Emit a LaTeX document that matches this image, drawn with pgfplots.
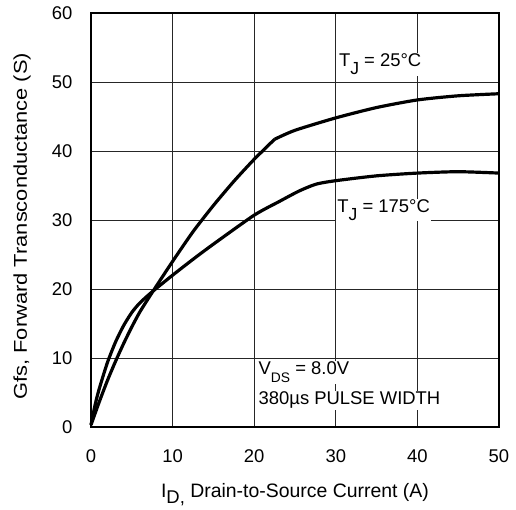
\documentclass[border=0pt]{standalone}
\usepackage{pgfplots}
\pgfplotsset{compat=1.18}
\usepackage{fontspec}
\setmainfont{Liberation Sans}
\newcommand{\sbs}[3]{\raisebox{-#2}{\scalebox{#1}{#3}}}
\begin{document}
\begin{tikzpicture}
\useasboundingbox (-91bp,-83bp) rectangle (425bp,427bp);
\begin{axis}[
  at={(0,0)}, anchor=south west,
  scale only axis, width=408bp, height=414bp,
  xmin=0, xmax=50, ymin=0, ymax=60,
  xtick={0,10,...,50}, ytick={0,10,...,60},
  grid=major, grid style={black!85, line width=1pt},
  axis line style={line width=3pt},
  tick style={draw=none},
  /pgf/number format/assume math mode=true,
  ticklabel style={font=\fontsize{18.5}{20}\selectfont},
  xticklabel style={anchor=north, yshift=-19bp},
  yticklabel style={anchor=east, xshift=-15bp},
  xlabel={I\sbs{0.95}{0.34em}{D,} Drain-to-Source Current (A)},
  ylabel={\scalebox{1.18}[1]{Gfs, Forward Transconductance (S)}},
  xlabel style={font=\fontsize{19.5}{22}\selectfont},
  ylabel style={font=\fontsize{18.6}{22}\selectfont},
  xlabel style={at={(axis description cs:0.5,0)}, anchor=base, yshift=-70bp},
  ylabel style={at={(axis description cs:0,0.485)}, anchor=base, yshift=64bp},
  clip=false,
]
\addplot[black, line width=3.2pt, smooth, tension=0.4] coordinates {
 (0,0.3) (1,3.6) (2,6.7) (3,9.5) (4,12.1) (5,14.5) (6,16.7) (7.5,19.5) (10,24.0)
 (12.5,28.3) (15,32.1) (17.5,35.6) (20,38.8) (22.5,41.7)};
\addplot[black, line width=3.2pt, smooth, tension=0.4] coordinates {
 (22.5,41.7) (25,43.0) (30,44.8) (35,46.3) (40,47.4) (45,48.0) (50,48.3)};
\addplot[black, line width=3.2pt, smooth, tension=0.4] coordinates {
 (0,0.3) (0.5,3.2) (1,5.5) (2,9.3) (3,12.3) (4,14.7) (5,16.6) (6,18.0) (7.5,19.6)
 (10,22.0) (12.5,24.3) (15,26.5) (20,30.7) (23.1,32.7) (25.5,34.2) (27.6,35.2)
 (30,35.7) (35,36.4) (40,36.8) (45,37.0) (50,36.8)};
\node[fill=white, inner sep=1pt, anchor=base west, font=\fontsize{18.5}{20}\selectfont]
  at (axis cs:30.25,52.2) {T\sbs{0.95}{0.42em}{J} = 25°C};
\node[fill=white, inner sep=1pt, anchor=base west, font=\fontsize{18.5}{20}\selectfont]
  at (axis cs:30.05,31.1) {T\sbs{0.95}{0.42em}{J} = 175°C};
\node[fill=white, inner sep=1pt, anchor=base west, font=\fontsize{18.5}{20}\selectfont]
  at (axis cs:20.4,7.54) {V\sbs{0.75}{0.43em}{DS} = 8.0V};
\node[fill=white, inner sep=1pt, anchor=base west, font=\fontsize{18.5}{20}\selectfont]
  at (axis cs:20.4,3.19) {380µs PULSE WIDTH};
\end{axis}
\end{tikzpicture}
\end{document}
